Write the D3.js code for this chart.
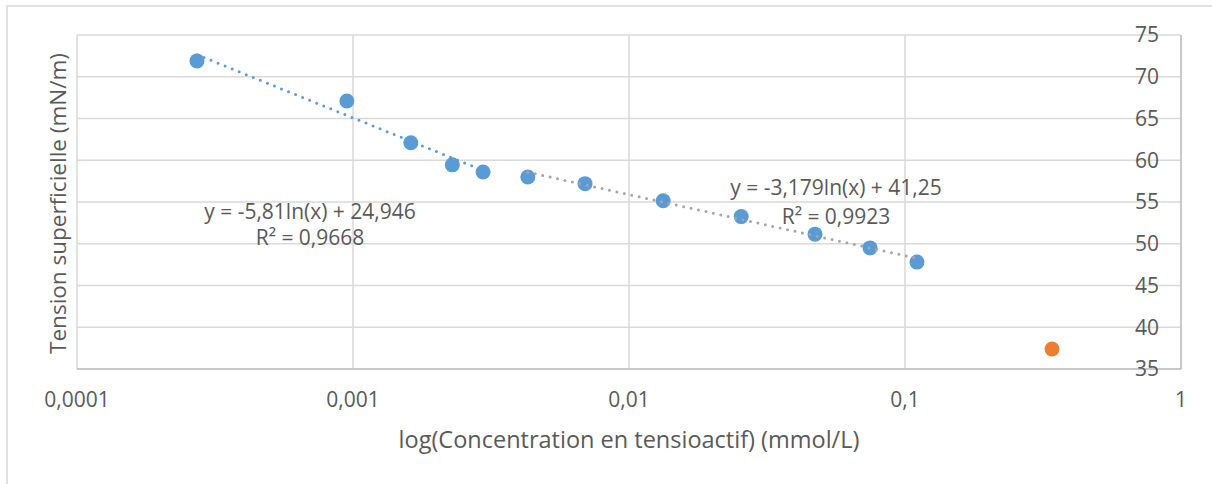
<!DOCTYPE html>
<html><head><meta charset="utf-8">
<script src="https://cdn.jsdelivr.net/npm/d3@7"></script>
<style>
html,body{margin:0;padding:0;background:#fff;}
svg{display:block;font-family:"Open Sans",sans-serif;}
</style></head>
<body>
<svg id="chart" width="1212" height="484"></svg>
<script>
// Data
const concentrations = [0.000272, 0.00095, 0.00162, 0.00229, 0.00296, 0.0043, 0.00693, 0.0133, 0.0255, 0.0472, 0.0747, 0.1105];
const tensions = [71.9, 67.1, 62.1, 59.45, 58.6, 58.0, 57.2, 55.15, 53.25, 51.15, 49.5, 47.8];
const outlierConc = [0.341];
const outlierTension = [37.4];
const xTickValues = [0.0001, 0.001, 0.01, 0.1, 1];
const xTickLabels = ["0,0001", "0,001", "0,01", "0,1", "1"];
const yTickValues = [35, 40, 45, 50, 55, 60, 65, 70, 75];
const trendSlopes = [-5.81, -3.179];
const trendIntercepts = [24.946, 41.25];
const trendStart = [0, 5];
const trendEnd = [4, 11];
const trendEq = ["y = -5,81ln(x) + 24,946", "y = -3,179ln(x) + 41,25"];
const trendR2 = ["R² = 0,9668", "R² = 0,9923"];

const svg = d3.select("#chart");
const pLeft = 77, pRight = 1181, pTop = 35, pBottom = 369;
const x = d3.scaleLog().domain([0.0001, 1]).range([pLeft, pRight]);
const y = d3.scaleLinear().domain([35, 75]).range([pBottom, pTop]);
const txt = "#595959";

// outer border (left/top visible)
svg.append("rect").attr("x", 7).attr("y", 6).attr("width", 1230).attr("height", 500)
  .attr("fill", "#fff").attr("stroke", "#d9d9d9").attr("stroke-width", 1.5);

// gridlines
svg.append("g").selectAll("line").data(yTickValues).join("line")
  .attr("x1", pLeft).attr("x2", pRight).attr("y1", d => y(d)).attr("y2", d => y(d))
  .attr("stroke", "#d9d9d9").attr("stroke-width", 1.5);
svg.append("g").selectAll("line").data(xTickValues).join("line")
  .attr("y1", pTop).attr("y2", pBottom).attr("x1", d => x(d)).attr("x2", d => x(d))
  .attr("stroke", "#d9d9d9").attr("stroke-width", 1.5);
// axis lines
svg.append("line").attr("x1", pLeft).attr("x2", pRight).attr("y1", pBottom).attr("y2", pBottom)
  .attr("stroke", "#bfbfbf").attr("stroke-width", 1.5);
svg.append("line").attr("x1", pRight).attr("x2", pRight).attr("y1", pTop).attr("y2", pBottom)
  .attr("stroke", "#bfbfbf").attr("stroke-width", 1.5);

// x tick labels
svg.append("g").selectAll("text").data(xTickValues).join("text")
  .attr("x", d => x(d)).attr("y", 400).attr("dy", "0.35em").attr("text-anchor", "middle")
  .attr("fill", txt).attr("font-size", 21).text((d, i) => xTickLabels[i]);
// y tick labels
svg.append("g").selectAll("text").data(yTickValues).join("text")
  .attr("x", 1159).attr("y", d => y(d)).attr("dy", "0.35em").attr("text-anchor", "end")
  .attr("fill", txt).attr("font-size", 21).text(d => d);

// axis titles
svg.append("text").attr("x", (pLeft + pRight) / 2).attr("y", 440).attr("dy", "0.35em")
  .attr("text-anchor", "middle").attr("fill", txt).attr("font-size", 23.5)
  .text("log(Concentration en tensioactif) (mmol/L)");
svg.append("text").attr("transform", `translate(58,${(pTop + pBottom) / 2 + 1.5}) rotate(-90)`)
  .attr("dy", "0.35em").attr("text-anchor", "middle").attr("fill", txt).attr("font-size", 22.5)
  .text("Tension superficielle (mN/m)");

// points
svg.append("g").selectAll("circle").data(concentrations).join("circle")
  .attr("cx", d => x(d)).attr("cy", (d, i) => y(tensions[i])).attr("r", 7.5).attr("fill", "#5b9bd5");
svg.append("g").selectAll("circle").data(outlierConc).join("circle")
  .attr("cx", d => x(d)).attr("cy", (d, i) => y(outlierTension[i])).attr("r", 7.5).attr("fill", "#ed7d31");

// trendlines
const trendColors = ["#5b9bd5", "#a5a5a5"];
trendSlopes.forEach((a, k) => {
  const x0 = concentrations[trendStart[k]], x1 = concentrations[trendEnd[k]];
  const f = v => a * Math.log(v) + trendIntercepts[k];
  svg.append("line").attr("x1", x(x0)).attr("y1", y(f(x0))).attr("x2", x(x1)).attr("y2", y(f(x1)))
    .attr("stroke", trendColors[k]).attr("stroke-width", 3).attr("stroke-linecap", "round")
    .attr("stroke-dasharray", "0 7.6");
});

// trend labels
const labelPos = [[310, 212, 238], [836, 188, 217]];
trendEq.forEach((t, k) => {
  svg.append("text").attr("x", labelPos[k][0]).attr("y", labelPos[k][1]).attr("dy", "0.35em")
    .attr("text-anchor", "middle").attr("fill", txt).attr("font-size", 21).text(t);
  svg.append("text").attr("x", labelPos[k][0]).attr("y", labelPos[k][2]).attr("dy", "0.35em")
    .attr("text-anchor", "middle").attr("fill", txt).attr("font-size", 21).text(trendR2[k]);
});
</script>
</body></html>
